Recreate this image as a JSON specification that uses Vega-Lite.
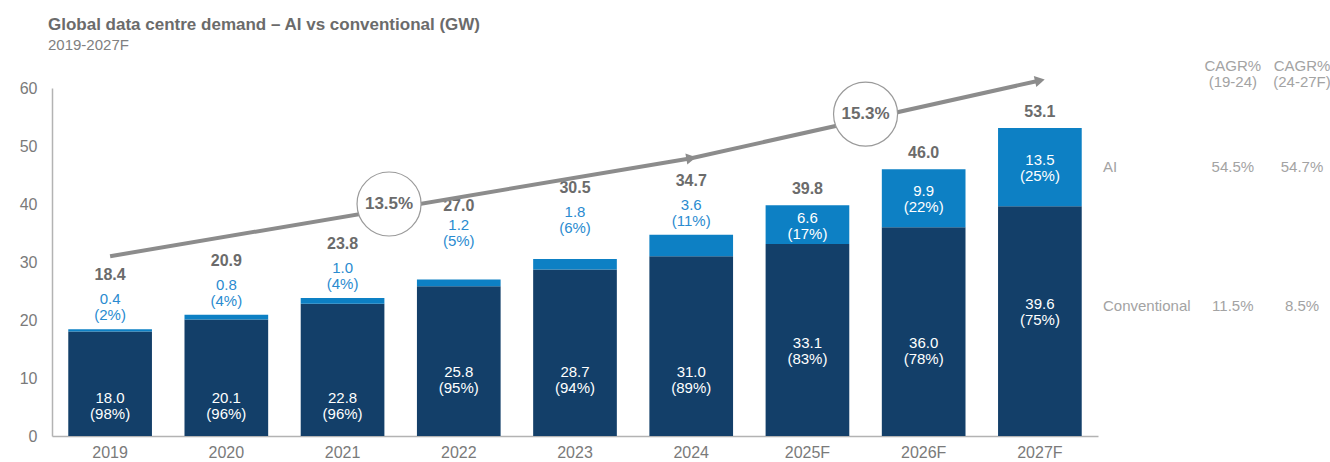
{
  "$schema": "https://vega.github.io/schema/vega-lite/v6.json",
  "width": 1046,
  "height": 348,
  "autosize": {"type": "none"},
  "padding": {"left": 52, "top": 88, "right": 232, "bottom": 26},
  "background": "white",
  "config": {
    "font": "Liberation Sans",
    "view": {"stroke": null},
    "axisX": {"labelAngle": 0, "ticks": false, "grid": false, "domainColor": "#b3b3b3", "domainWidth": 1.5, "labelColor": "#7a7a7a", "labelFontSize": 16, "labelPadding": 8, "labelFont": "Liberation Sans"},
    "axisY": {"ticks": false, "grid": false, "domainColor": "#b3b3b3", "domainWidth": 1.5, "labelColor": "#7a7a7a", "labelFontSize": 16, "labelPadding": 15, "tickCount": 6, "labelFont": "Liberation Sans"}
  },
  "title": {
    "text": "Global data centre demand – AI vs conventional (GW)",
    "subtitle": "2019-2027F",
    "anchor": "start",
    "frame": "group",
    "offset": 13,
    "dx": -4,
    "dy": 8,
    "font": "Liberation Sans",
    "fontSize": 17,
    "fontWeight": "bold",
    "color": "#6b6b6b",
    "subtitleFont": "Liberation Sans",
    "subtitleFontSize": 15,
    "subtitleColor": "#808080",
    "subtitlePadding": 4
  },
  "datasets": {
    "years": [
      {"year": "2019", "conv": 18.0, "ai": 0.4, "total": 18.4, "conv_pct": 98, "ai_pct": 2},
      {"year": "2020", "conv": 20.1, "ai": 0.8, "total": 20.9, "conv_pct": 96, "ai_pct": 4},
      {"year": "2021", "conv": 22.8, "ai": 1.0, "total": 23.8, "conv_pct": 96, "ai_pct": 4},
      {"year": "2022", "conv": 25.8, "ai": 1.2, "total": 27.0, "conv_pct": 95, "ai_pct": 5},
      {"year": "2023", "conv": 28.7, "ai": 1.8, "total": 30.5, "conv_pct": 94, "ai_pct": 6},
      {"year": "2024", "conv": 31.0, "ai": 3.6, "total": 34.7, "conv_pct": 89, "ai_pct": 11},
      {"year": "2025F", "conv": 33.1, "ai": 6.6, "total": 39.8, "conv_pct": 83, "ai_pct": 17},
      {"year": "2026F", "conv": 36.0, "ai": 9.9, "total": 46.0, "conv_pct": 78, "ai_pct": 22},
      {"year": "2027F", "conv": 39.6, "ai": 13.5, "total": 53.1, "conv_pct": 75, "ai_pct": 25}
    ],
    "arrows": [
      {"seg": "a", "year": "2019", "gw": 31.0},
      {"seg": "a", "year": "2024", "gw": 47.9},
      {"seg": "b", "year": "2024", "gw": 47.9},
      {"seg": "b", "year": "2027F", "gw": 61.3}
    ],
    "cagr_total": [
      {"period": "2019-2024", "cagr": "13.5%"},
      {"period": "2024-2027F", "cagr": "15.3%"}
    ],
    "cagr": [
      {"series": "AI", "p1924": "54.5%", "p2427": "54.7%"},
      {"series": "Conventional", "p1924": "11.5%", "p2427": "8.5%"}
    ]
  },
  "layer": [
    {
      "layer": [
        {
          "data": {"name": "years"},
          "transform": [
            {"calculate": "format(datum.conv, '.1f') + '\\n(' + datum.conv_pct + '%)'", "as": "conv_lbl"},
            {"calculate": "format(datum.ai, '.1f') + '\\n(' + datum.ai_pct + '%)'", "as": "ai_lbl"},
            {"calculate": "format(datum.total, '.1f')", "as": "tot_lbl"},
            {"calculate": "(datum.conv + datum.total) / 2", "as": "ai_mid"}
          ],
          "encoding": {
            "x": {"field": "year", "type": "nominal", "sort": null, "title": null,
                  "scale": {"domain": ["2019","2020","2021","2022","2023","2024","2025F","2026F","2027F"], "paddingInner": 0.28, "paddingOuter": 0.14}}
          },
          "layer": [
            {"mark": {"type": "bar", "color": "#133f69"},
             "encoding": {"y": {"field": "conv", "type": "quantitative", "scale": {"domain": [0, 60]}, "title": null}}},
            {"mark": {"type": "bar", "color": "#0d80c4"},
             "encoding": {"y": {"field": "conv", "type": "quantitative", "scale": {"domain": [0, 60]}, "title": null}, "y2": {"field": "total"}}},
            {"transform": [{"filter": "indexof(['2019','2020','2021'], datum.year) >= 0"}],
             "mark": {"type": "text", "color": "white", "fontSize": 15, "lineBreak": "\n", "lineHeight": 16, "baseline": "middle", "dy": -7},
             "encoding": {"y": {"datum": 5.26, "type": "quantitative", "scale": {"domain": [0, 60]}, "title": null}, "text": {"field": "conv_lbl"}}},
            {"transform": [{"filter": "indexof(['2022','2023','2024'], datum.year) >= 0"}],
             "mark": {"type": "text", "color": "white", "fontSize": 15, "lineBreak": "\n", "lineHeight": 16, "baseline": "middle", "dy": -7},
             "encoding": {"y": {"datum": 9.91, "type": "quantitative", "scale": {"domain": [0, 60]}, "title": null}, "text": {"field": "conv_lbl"}}},
            {"transform": [{"filter": "indexof(['2025F','2026F'], datum.year) >= 0"}],
             "mark": {"type": "text", "color": "white", "fontSize": 15, "lineBreak": "\n", "lineHeight": 16, "baseline": "middle", "dy": -7},
             "encoding": {"y": {"datum": 14.91, "type": "quantitative", "scale": {"domain": [0, 60]}, "title": null}, "text": {"field": "conv_lbl"}}},
            {"transform": [{"filter": "datum.year == '2027F'"}],
             "mark": {"type": "text", "color": "white", "fontSize": 15, "lineBreak": "\n", "lineHeight": 16, "baseline": "middle", "dy": -7},
             "encoding": {"y": {"datum": 21.55, "type": "quantitative", "scale": {"domain": [0, 60]}, "title": null}, "text": {"field": "conv_lbl"}}},
            {"transform": [{"filter": "indexof(['2025F','2026F','2027F'], datum.year) >= 0"}],
             "mark": {"type": "text", "color": "white", "fontSize": 15, "lineBreak": "\n", "lineHeight": 16, "baseline": "middle", "dy": -7},
             "encoding": {"y": {"field": "ai_mid", "type": "quantitative", "scale": {"domain": [0, 60]}, "title": null}, "text": {"field": "ai_lbl"}}},
            {"transform": [{"filter": "indexof(['2019','2020','2021','2024'], datum.year) >= 0"}],
             "mark": {"type": "text", "color": "#2a8bd0", "fontSize": 15, "lineBreak": "\n", "lineHeight": 16, "baseline": "middle", "dy": -30},
             "encoding": {"y": {"field": "total", "type": "quantitative", "scale": {"domain": [0, 60]}, "title": null}, "text": {"field": "ai_lbl"}}},
            {"transform": [{"filter": "datum.year == '2022'"}],
             "mark": {"type": "text", "color": "#2a8bd0", "fontSize": 15, "lineBreak": "\n", "lineHeight": 16, "baseline": "middle", "dy": -54},
             "encoding": {"y": {"field": "total", "type": "quantitative", "scale": {"domain": [0, 60]}, "title": null}, "text": {"field": "ai_lbl"}}},
            {"transform": [{"filter": "datum.year == '2023'"}],
             "mark": {"type": "text", "color": "#2a8bd0", "fontSize": 15, "lineBreak": "\n", "lineHeight": 16, "baseline": "middle", "dy": -47},
             "encoding": {"y": {"field": "total", "type": "quantitative", "scale": {"domain": [0, 60]}, "title": null}, "text": {"field": "ai_lbl"}}},
            {"transform": [{"filter": "indexof(['2019','2020','2021','2024'], datum.year) >= 0"}],
             "mark": {"type": "text", "color": "#6b6b6b", "fontSize": 16, "fontWeight": "bold", "baseline": "middle", "dy": -54},
             "encoding": {"y": {"field": "total", "type": "quantitative", "scale": {"domain": [0, 60]}, "title": null}, "text": {"field": "tot_lbl"}}},
            {"transform": [{"filter": "datum.year == '2022'"}],
             "mark": {"type": "text", "color": "#6b6b6b", "fontSize": 16, "fontWeight": "bold", "baseline": "middle", "dy": -73},
             "encoding": {"y": {"field": "total", "type": "quantitative", "scale": {"domain": [0, 60]}, "title": null}, "text": {"field": "tot_lbl"}}},
            {"transform": [{"filter": "datum.year == '2023'"}],
             "mark": {"type": "text", "color": "#6b6b6b", "fontSize": 16, "fontWeight": "bold", "baseline": "middle", "dy": -71},
             "encoding": {"y": {"field": "total", "type": "quantitative", "scale": {"domain": [0, 60]}, "title": null}, "text": {"field": "tot_lbl"}}},
            {"transform": [{"filter": "indexof(['2025F','2026F','2027F'], datum.year) >= 0"}],
             "mark": {"type": "text", "color": "#6b6b6b", "fontSize": 16, "fontWeight": "bold", "baseline": "middle", "dy": -16},
             "encoding": {"y": {"field": "total", "type": "quantitative", "scale": {"domain": [0, 60]}, "title": null}, "text": {"field": "tot_lbl"}}}
          ]
        },
        {
          "data": {"name": "arrows"},
          "encoding": {
            "x": {"field": "year", "type": "nominal", "sort": null, "title": null},
            "y": {"field": "gw", "type": "quantitative", "scale": {"domain": [0, 60]}, "title": null}
          },
          "layer": [
            {"mark": {"type": "line", "color": "#8c8c8c", "strokeWidth": 4}, "encoding": {"detail": {"field": "seg"}}},
            {"transform": [{"filter": "datum.seg == 'a' && datum.year == '2024'"}],
             "mark": {"type": "point", "shape": "triangle-right", "filled": true, "color": "#8c8c8c", "opacity": 1, "size": 130, "angle": -9.6},
             "encoding": {}},
            {"transform": [{"filter": "datum.seg == 'b' && datum.year == '2027F'"}],
             "mark": {"type": "point", "shape": "triangle-right", "filled": true, "color": "#8c8c8c", "opacity": 1, "size": 130, "angle": -12.6},
             "encoding": {}}
          ]
        }
      ]
    },
    {
      "layer": [
        {"data": {"name": "cagr_total"}, "transform": [{"filter": "datum.period == '2019-2024'"}],
         "mark": {"type": "point", "shape": "circle", "filled": true, "fill": "white", "stroke": "#9a9a9a", "strokeWidth": 1.2, "opacity": 1, "size": 4100},
         "encoding": {"x": {"datum": 2.9, "type": "quantitative", "scale": {"domain": [0, 9]}, "axis": null},
                      "y": {"datum": 40.0, "type": "quantitative", "scale": {"domain": [0, 60]}, "axis": null}}},
        {"data": {"name": "cagr_total"}, "transform": [{"filter": "datum.period == '2019-2024'"}],
         "mark": {"type": "text", "fontSize": 17, "fontWeight": "bold", "color": "#6b6b6b", "baseline": "middle"},
         "encoding": {"x": {"datum": 2.9, "type": "quantitative", "scale": {"domain": [0, 9]}, "axis": null},
                      "y": {"datum": 40.0, "type": "quantitative", "scale": {"domain": [0, 60]}, "axis": null},
                      "text": {"field": "cagr"}}},
        {"data": {"name": "cagr_total"}, "transform": [{"filter": "datum.period == '2024-2027F'"}],
         "mark": {"type": "point", "shape": "circle", "filled": true, "fill": "white", "stroke": "#9a9a9a", "strokeWidth": 1.2, "opacity": 1, "size": 4100},
         "encoding": {"x": {"datum": 7.0, "type": "quantitative", "scale": {"domain": [0, 9]}, "axis": null},
                      "y": {"datum": 55.5, "type": "quantitative", "scale": {"domain": [0, 60]}, "axis": null}}},
        {"data": {"name": "cagr_total"}, "transform": [{"filter": "datum.period == '2024-2027F'"}],
         "mark": {"type": "text", "fontSize": 17, "fontWeight": "bold", "color": "#6b6b6b", "baseline": "middle"},
         "encoding": {"x": {"datum": 7.0, "type": "quantitative", "scale": {"domain": [0, 9]}, "axis": null},
                      "y": {"datum": 55.5, "type": "quantitative", "scale": {"domain": [0, 60]}, "axis": null},
                      "text": {"field": "cagr"}}},
        {"data": {"name": "cagr"}, "transform": [{"filter": "datum.series == 'AI'"}],
         "mark": {"type": "text", "text": ["CAGR%", "(19-24)"], "fontSize": 15, "color": "#a3a3a3", "lineHeight": 16, "baseline": "middle", "align": "center", "dy": -8},
         "encoding": {"x": {"datum": 10.16, "type": "quantitative", "scale": {"domain": [0, 9]}, "axis": null},
                      "y": {"datum": 62.4, "type": "quantitative", "scale": {"domain": [0, 60]}, "axis": null}}},
        {"data": {"name": "cagr"}, "transform": [{"filter": "datum.series == 'AI'"}],
         "mark": {"type": "text", "text": ["CAGR%", "(24-27F)"], "fontSize": 15, "color": "#a3a3a3", "lineHeight": 16, "baseline": "middle", "align": "center", "dy": -8},
         "encoding": {"x": {"datum": 10.755, "type": "quantitative", "scale": {"domain": [0, 9]}, "axis": null},
                      "y": {"datum": 62.4, "type": "quantitative", "scale": {"domain": [0, 60]}, "axis": null}}},
        {"data": {"name": "cagr"}, "transform": [{"filter": "datum.series == 'AI'"}],
         "mark": {"type": "text", "fontSize": 15, "color": "#a3a3a3", "baseline": "middle", "align": "left"},
         "encoding": {"x": {"datum": 9.043, "type": "quantitative", "scale": {"domain": [0, 9]}, "axis": null},
                      "y": {"datum": 46.4, "type": "quantitative", "scale": {"domain": [0, 60]}, "axis": null},
                      "text": {"field": "series"}}},
        {"data": {"name": "cagr"}, "transform": [{"filter": "datum.series == 'AI'"}],
         "mark": {"type": "text", "fontSize": 15, "color": "#a3a3a3", "baseline": "middle", "align": "center"},
         "encoding": {"x": {"datum": 10.16, "type": "quantitative", "scale": {"domain": [0, 9]}, "axis": null},
                      "y": {"datum": 46.4, "type": "quantitative", "scale": {"domain": [0, 60]}, "axis": null},
                      "text": {"field": "p1924"}}},
        {"data": {"name": "cagr"}, "transform": [{"filter": "datum.series == 'AI'"}],
         "mark": {"type": "text", "fontSize": 15, "color": "#a3a3a3", "baseline": "middle", "align": "center"},
         "encoding": {"x": {"datum": 10.755, "type": "quantitative", "scale": {"domain": [0, 9]}, "axis": null},
                      "y": {"datum": 46.4, "type": "quantitative", "scale": {"domain": [0, 60]}, "axis": null},
                      "text": {"field": "p2427"}}},
        {"data": {"name": "cagr"}, "transform": [{"filter": "datum.series == 'Conventional'"}],
         "mark": {"type": "text", "fontSize": 15, "color": "#a3a3a3", "baseline": "middle", "align": "left"},
         "encoding": {"x": {"datum": 9.043, "type": "quantitative", "scale": {"domain": [0, 9]}, "axis": null},
                      "y": {"datum": 22.4, "type": "quantitative", "scale": {"domain": [0, 60]}, "axis": null},
                      "text": {"field": "series"}}},
        {"data": {"name": "cagr"}, "transform": [{"filter": "datum.series == 'Conventional'"}],
         "mark": {"type": "text", "fontSize": 15, "color": "#a3a3a3", "baseline": "middle", "align": "center"},
         "encoding": {"x": {"datum": 10.16, "type": "quantitative", "scale": {"domain": [0, 9]}, "axis": null},
                      "y": {"datum": 22.4, "type": "quantitative", "scale": {"domain": [0, 60]}, "axis": null},
                      "text": {"field": "p1924"}}},
        {"data": {"name": "cagr"}, "transform": [{"filter": "datum.series == 'Conventional'"}],
         "mark": {"type": "text", "fontSize": 15, "color": "#a3a3a3", "baseline": "middle", "align": "center"},
         "encoding": {"x": {"datum": 10.755, "type": "quantitative", "scale": {"domain": [0, 9]}, "axis": null},
                      "y": {"datum": 22.4, "type": "quantitative", "scale": {"domain": [0, 60]}, "axis": null},
                      "text": {"field": "p2427"}}}
      ]
    }
  ],
  "resolve": {"scale": {"x": "independent", "y": "independent"}}
}
